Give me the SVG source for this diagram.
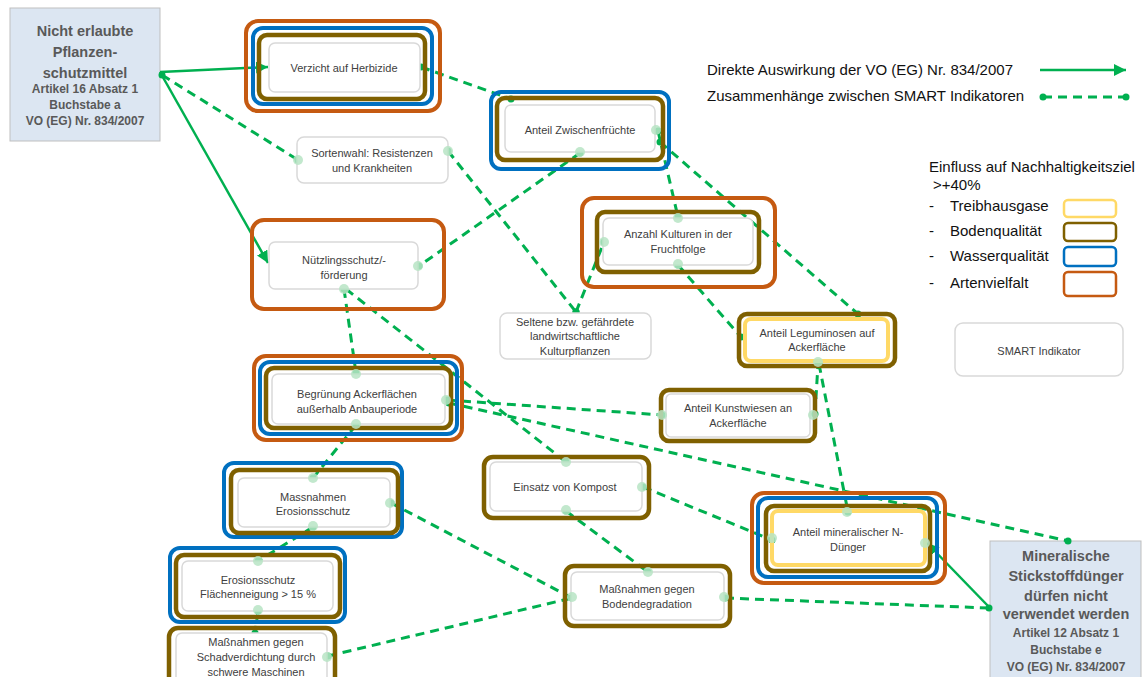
<svg xmlns="http://www.w3.org/2000/svg" width="1144" height="677" viewBox="0 0 1144 677">
<defs>
<style>
.t{font-family:"Liberation Sans",Arial,sans-serif;font-size:11px;fill:#404040;text-anchor:middle}
.lg{font-family:"Liberation Sans",Arial,sans-serif;font-size:15px;fill:#111}
.vo{font-family:"Liberation Sans",Arial,sans-serif;font-weight:bold;fill:#595959;text-anchor:middle}
.in{fill:#fff;stroke:#d9d9d9;stroke-width:1.5}
.or{fill:none;stroke:#c55a11;stroke-width:4}
.bl{fill:none;stroke:#0070c0;stroke-width:4}
.br{fill:none;stroke:#7f6000;stroke-width:4.5}
.ye{fill:none;stroke:#ffd966;stroke-width:4}
.vb{fill:#dce6f2;stroke:#bfbfbf;stroke-width:1}
.sol{fill:none;stroke:#00b050;stroke-width:2.5;marker-end:url(#arr)}
.das{fill:none;stroke:#00b050;stroke-width:3;stroke-dasharray:9 6;marker-start:url(#dot);marker-end:url(#dot)}
.pc{fill:#b7e4c4;opacity:0.85}
</style>
<marker id="arr" markerUnits="userSpaceOnUse" markerWidth="12" markerHeight="12" refX="10" refY="5" orient="auto" viewBox="0 0 10 10"><path d="M0,0 L10,5 L0,10 z" fill="#00b050"/></marker>
<marker id="dot" markerUnits="userSpaceOnUse" markerWidth="8" markerHeight="8" refX="4" refY="4" viewBox="0 0 8 8"><circle cx="4" cy="4" r="3.5" fill="#00b050"/></marker>
</defs>
<rect width="1144" height="677" fill="#fff"/>

<!-- regulation boxes -->
<g id="vo1">
<rect class="vb" x="10" y="8" width="150" height="133"/>
<text class="vo" font-size="14.5" x="85" y="36">Nicht erlaubte</text>
<text class="vo" font-size="14.5" x="85" y="57">Pflanzen-</text>
<text class="vo" font-size="14.5" x="85" y="78">schutzmittel</text>
<text class="vo" font-size="12" x="85" y="93">Artikel 16 Absatz 1</text>
<text class="vo" font-size="12" x="85" y="109">Buchstabe a</text>
<text class="vo" font-size="12" x="85" y="125">VO (EG) Nr. 834/2007</text>
</g>
<g id="vo2">
<rect class="vb" x="990" y="541" width="151" height="140"/>
<text class="vo" font-size="14.5" x="1066" y="561">Mineralische</text>
<text class="vo" font-size="14.5" x="1066" y="581">Stickstoffdünger</text>
<text class="vo" font-size="14.5" x="1066" y="601">dürfen nicht</text>
<text class="vo" font-size="14.5" x="1066" y="619">verwendet werden</text>
<text class="vo" font-size="12" x="1066" y="637">Artikel 12 Absatz 1</text>
<text class="vo" font-size="12" x="1066" y="654">Buchstabe e</text>
<text class="vo" font-size="12" x="1066" y="671">VO (EG) Nr. 834/2007</text>
</g>

<!-- legend -->
<g id="legend">
<text class="lg" x="707" y="75">Direkte Auswirkung der VO (EG) Nr. 834/2007</text>
<line x1="1040" y1="70" x2="1126" y2="70" class="sol"/>
<text class="lg" x="707" y="101">Zusammenhänge zwischen SMART Indikatoren</text>
<line x1="1043" y1="97" x2="1126" y2="97" class="das"/>
<text class="lg" x="929" y="172">Einfluss auf Nachhaltigkeitsziel</text>
<text class="lg" font-size="11" x="933" y="190">&gt;+40%</text>
<text class="lg" x="929" y="211">-</text><text class="lg" x="950" y="211">Treibhausgase</text>
<text class="lg" x="929" y="236">-</text><text class="lg" x="950" y="236">Bodenqualität</text>
<text class="lg" x="929" y="261">-</text><text class="lg" x="950" y="261">Wasserqualität</text>
<text class="lg" x="929" y="288">-</text><text class="lg" x="950" y="288">Artenvielfalt</text>
<rect x="1064" y="200" width="52" height="17" rx="4" fill="#fff" stroke="#ffd966" stroke-width="2.5"/>
<rect x="1064" y="223" width="52" height="18" rx="4" fill="#fff" stroke="#7f6000" stroke-width="2.5"/>
<rect x="1064" y="247" width="52" height="19" rx="4" fill="#fff" stroke="#0070c0" stroke-width="2.5"/>
<rect x="1064" y="272" width="52" height="24" rx="4" fill="#fff" stroke="#c55a11" stroke-width="2.5"/>
<rect class="in" x="955" y="323" width="168" height="53" rx="8"/>
<text class="t" x="1039" y="355" font-size="12">SMART Indikator</text>
</g>

<!-- connectors -->
<g id="connectors">
<line class="sol" x1="160" y1="72" x2="268" y2="67"/>
<line class="sol" x1="160" y1="72" x2="268" y2="263"/>
<line class="das" x1="162" y1="75" x2="298" y2="160"/>
<line class="das" x1="421" y1="67" x2="511" y2="99"/>
<line class="das" x1="580" y1="153" x2="419" y2="266"/>
<line class="das" x1="658" y1="131" x2="678" y2="217"/>
<line class="das" x1="660" y1="142" x2="858" y2="314"/>
<line class="das" x1="448" y1="151" x2="576" y2="312"/>
<line class="das" x1="576" y1="312" x2="604" y2="242"/>
<line class="das" x1="678" y1="265" x2="741" y2="337"/>
<line class="das" x1="344" y1="289" x2="356" y2="373"/>
<line class="das" x1="346" y1="289" x2="566" y2="462"/>
<line class="das" x1="447" y1="400" x2="662" y2="415"/>
<line class="das" x1="449" y1="403" x2="1068" y2="541"/>
<line class="das" x1="356" y1="425" x2="313" y2="478"/>
<line class="das" x1="313" y1="527" x2="258" y2="561"/>
<line class="das" x1="258" y1="611" x2="255" y2="633"/>
<line class="das" x1="391" y1="503" x2="572" y2="598"/>
<line class="das" x1="328" y1="656" x2="572" y2="598"/>
<line class="das" x1="566" y1="511" x2="648" y2="572"/>
<line class="das" x1="643" y1="487" x2="772" y2="540"/>
<line class="das" x1="815" y1="414" x2="818" y2="364"/>
<line class="das" x1="819" y1="364" x2="848" y2="512"/>
<line class="das" x1="725" y1="598" x2="989" y2="608"/>
<line class="sol" x1="990" y1="608" x2="927" y2="543"/>
</g>

<!-- nodes -->
<g id="herbizide">
<rect class="or" x="246" y="21" width="194" height="90" rx="12"/>
<rect class="bl" x="253" y="28" width="179" height="76" rx="10"/>
<rect class="br" x="259" y="35" width="166" height="64" rx="8"/>
<rect class="in" x="269" y="43" width="151" height="49" rx="6"/>
<text class="t" x="344" y="72">Verzicht auf Herbizide</text>
</g>
<g id="zwischenfruechte">
<rect class="bl" x="491" y="92" width="178" height="77" rx="10"/>
<rect class="br" x="497" y="98" width="166" height="62" rx="8"/>
<rect class="in" x="505" y="105" width="150" height="47" rx="6"/>
<text class="t" x="580" y="134">Anteil Zwischenfrüchte</text>
</g>
<g id="sortenwahl">
<rect class="in" x="297" y="137" width="151" height="46" rx="7"/>
<text class="t" x="372" y="157">Sortenwahl: Resistenzen</text>
<text class="t" x="372" y="172">und Krankheiten</text>
</g>
<g id="nuetzling">
<rect class="or" x="252" y="220" width="192" height="89" rx="12"/>
<rect class="in" x="269" y="242" width="149" height="47" rx="6"/>
<text class="t" x="344" y="264">Nützlingsschutz/-</text>
<text class="t" x="344" y="279">förderung</text>
</g>
<g id="kulturen">
<rect class="or" x="582" y="198" width="193" height="89" rx="12"/>
<rect class="br" x="597" y="212" width="162" height="60" rx="8"/>
<rect class="in" x="603" y="218" width="150" height="47" rx="6"/>
<text class="t" x="678" y="238">Anzahl Kulturen in der</text>
<text class="t" x="678" y="253">Fruchtfolge</text>
</g>
<g id="seltene">
<rect class="in" x="500" y="313" width="151" height="46" rx="7"/>
<text class="t" x="575" y="326">Seltene bzw. gefährdete</text>
<text class="t" x="575" y="340">landwirtschaftliche</text>
<text class="t" x="575" y="355">Kulturpflanzen</text>
</g>
<g id="leguminosen">
<rect class="br" x="739" y="314" width="156" height="52" rx="8"/>
<rect class="ye" x="745" y="319" width="143" height="42" rx="6"/>
<text class="t" x="817" y="337">Anteil Leguminosen auf</text>
<text class="t" x="817" y="351">Ackerfläche</text>
</g>
<g id="begruenung">
<rect class="or" x="254" y="356" width="208" height="84" rx="12"/>
<rect class="bl" x="260" y="362" width="197" height="72" rx="10"/>
<rect class="br" x="266" y="368" width="185" height="60" rx="8"/>
<rect class="in" x="272" y="374" width="173" height="50" rx="6"/>
<text class="t" x="357" y="398">Begrünung Ackerflächen</text>
<text class="t" x="357" y="413">außerhalb Anbauperiode</text>
</g>
<g id="kunstwiesen">
<rect class="br" x="661" y="390" width="154" height="51" rx="8"/>
<rect class="in" x="666" y="394" width="144" height="43" rx="5"/>
<text class="t" x="738" y="412">Anteil Kunstwiesen an</text>
<text class="t" x="738" y="427">Ackerfläche</text>
</g>
<g id="erosionsschutz">
<rect class="bl" x="224" y="463" width="178" height="74" rx="10"/>
<rect class="br" x="231" y="470" width="167" height="63" rx="8"/>
<rect class="in" x="238" y="478" width="152" height="49" rx="6"/>
<text class="t" x="313" y="501">Massnahmen</text>
<text class="t" x="313" y="515">Erosionsschutz</text>
</g>
<g id="kompost">
<rect class="br" x="484" y="457" width="165" height="61" rx="9"/>
<rect class="in" x="490" y="462" width="152" height="49" rx="6"/>
<text class="t" x="565" y="491">Einsatz von Kompost</text>
</g>
<g id="mineralduenger">
<rect class="or" x="752" y="493" width="193" height="90" rx="12"/>
<rect class="bl" x="758" y="498" width="179" height="79" rx="10"/>
<rect class="br" x="766" y="506" width="164" height="65" rx="8"/>
<rect class="ye" x="772" y="511" width="153" height="54" rx="6"/>
<text class="t" x="848" y="536">Anteil mineralischer N-</text>
<text class="t" x="848" y="551">Dünger</text>
</g>
<g id="flaechenneigung">
<rect class="bl" x="170" y="548" width="175" height="74" rx="10"/>
<rect class="br" x="176" y="555" width="164" height="62" rx="8"/>
<rect class="in" x="182" y="561" width="151" height="50" rx="6"/>
<text class="t" x="258" y="584">Erosionsschutz</text>
<text class="t" x="258" y="598">Flächenneigung &gt; 15 %</text>
</g>
<g id="bodendegradation">
<rect class="br" x="565" y="566" width="165" height="60" rx="9"/>
<rect class="in" x="571" y="572" width="153" height="48" rx="6"/>
<text class="t" x="647" y="593">Maßnahmen gegen</text>
<text class="t" x="647" y="608">Bodendegradation</text>
</g>
<g id="schadverdichtung">
<rect class="br" x="169" y="628" width="166" height="60" rx="9"/>
<rect class="in" x="176" y="633" width="151" height="50" rx="6"/>
<text class="t" x="256" y="646">Maßnahmen gegen</text>
<text class="t" x="256" y="661">Schadverdichtung durch</text>
<text class="t" x="256" y="676">schwere Maschinen</text>
</g>

<!-- connection points -->
<g id="points">
<circle class="pc" cx="298" cy="160" r="5"/><circle class="pc" cx="448" cy="151" r="5"/>
<circle class="pc" cx="580" cy="152" r="5"/><circle class="pc" cx="656" cy="130" r="5"/>
<circle class="pc" cx="678" cy="218" r="5"/><circle class="pc" cx="604" cy="242" r="5"/>
<circle class="pc" cx="678" cy="264" r="5"/><circle class="pc" cx="344" cy="289" r="5"/>
<circle class="pc" cx="418" cy="266" r="5"/><circle class="pc" cx="356" cy="374" r="5"/>
<circle class="pc" cx="446" cy="400" r="5"/><circle class="pc" cx="356" cy="424" r="5"/>
<circle class="pc" cx="662" cy="415" r="5"/><circle class="pc" cx="813" cy="415" r="5"/>
<circle class="pc" cx="818" cy="362" r="5"/><circle class="pc" cx="847" cy="512" r="5"/>
<circle class="pc" cx="772" cy="538" r="5"/><circle class="pc" cx="313" cy="478" r="5"/>
<circle class="pc" cx="390" cy="503" r="5"/><circle class="pc" cx="313" cy="526" r="5"/>
<circle class="pc" cx="258" cy="561" r="5"/><circle class="pc" cx="258" cy="610" r="5"/>
<circle class="pc" cx="327" cy="657" r="5"/><circle class="pc" cx="566" cy="462" r="5"/>
<circle class="pc" cx="642" cy="487" r="5"/><circle class="pc" cx="566" cy="510" r="5"/>
<circle class="pc" cx="648" cy="572" r="5"/><circle class="pc" cx="572" cy="597" r="5"/>
<circle class="pc" cx="724" cy="597" r="5"/><circle class="pc" cx="925" cy="543" r="5"/>
</g>
</svg>
